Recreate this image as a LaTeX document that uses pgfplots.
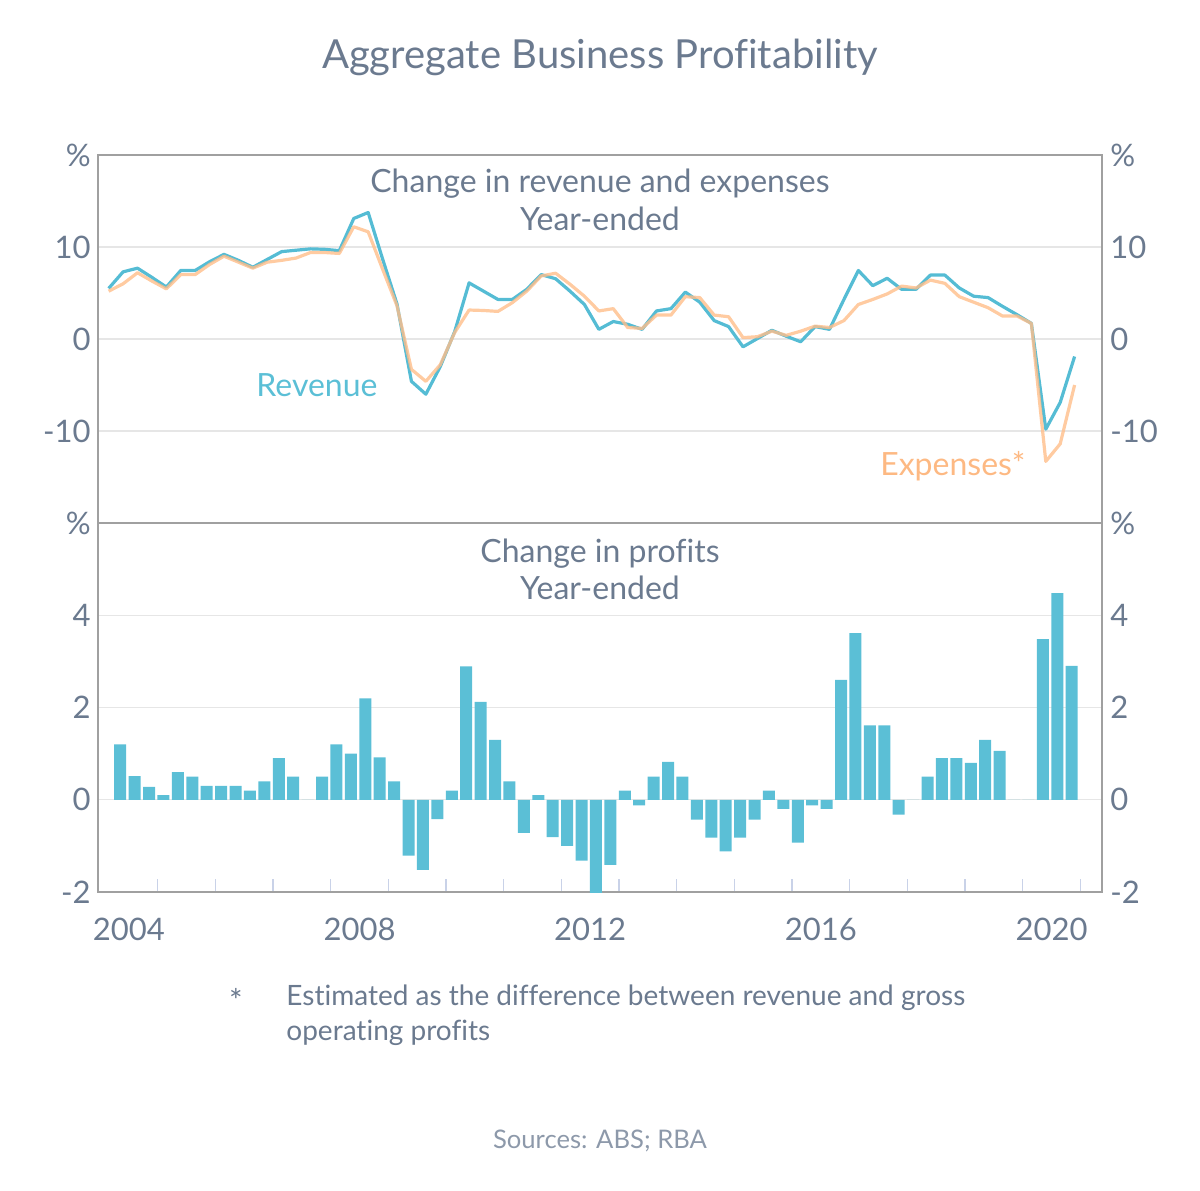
\documentclass[border=0pt]{standalone}
\usepackage{fontspec}
\setmainfont{Lato}[Ligatures=NoCommon]
\usepackage{pgfplots}
\pgfplotsset{compat=1.18}
\usepackage{pgfplotstable}

\definecolor{txt}{HTML}{6B7A8F}
\definecolor{srcgray}{HTML}{8D99AA}
\definecolor{axisgray}{HTML}{A0A0A0}
\definecolor{gridgray}{HTML}{E6E6E6}
\definecolor{tickcol}{HTML}{C9D2E8}
\definecolor{barcol}{HTML}{5BBFD6}
\definecolor{revcol}{HTML}{55BCD4}
\definecolor{expcol}{HTML}{FFBE8A}
\definecolor{exptxt}{HTML}{FDB983}

\pgfplotstableread{
x rev exp
2004.15 5.5 5.2
2004.40 7.3 6.0
2004.65 7.7 7.2
2004.90 6.7 6.3
2005.15 5.65 5.45
2005.40 7.45 7.0
2005.65 7.45 7.0
2005.90 8.4 8.1
2006.15 9.2 9.0
2006.40 8.55 8.35
2006.65 7.8 7.7
2006.90 8.65 8.35
2007.15 9.5 8.55
2007.40 9.65 8.8
2007.65 9.8 9.4
2007.90 9.75 9.4
2008.15 9.6 9.3
2008.40 13.1 12.2
2008.65 13.75 11.65
2008.90 8.7 7.6
2009.15 3.8 3.6
2009.40 -4.6 -3.3
2009.65 -6.0 -4.6
2009.90 -3.0 -2.8
2010.15 0.8 0.7
2010.40 6.1 3.15
2010.65 5.2 3.1
2010.90 4.3 3.0
2011.15 4.3 3.95
2011.40 5.4 5.2
2011.65 7.0 6.85
2011.90 6.55 7.15
2012.15 5.2 5.95
2012.40 3.75 4.65
2012.65 1.05 3.05
2012.90 1.9 3.3
2013.15 1.6 1.25
2013.40 1.05 1.15
2013.65 3.05 2.6
2013.90 3.3 2.6
2014.15 5.1 4.6
2014.40 4.0 4.5
2014.65 2.0 2.6
2014.90 1.35 2.42
2015.15 -0.85 0.15
2015.40 0.05 0.25
2015.65 0.95 0.85
2015.90 0.3 0.4
2016.15 -0.3 0.85
2016.40 1.35 1.4
2016.65 1.05 1.25
2016.90 4.3 2.0
2017.15 7.45 3.75
2017.40 5.8 4.3
2017.65 6.6 4.9
2017.90 5.4 5.75
2018.15 5.4 5.55
2018.40 6.95 6.4
2018.65 6.95 6.05
2018.90 5.55 4.6
2019.15 4.65 4.0
2019.40 4.5 3.4
2019.65 3.55 2.5
2019.90 2.65 2.5
2020.15 1.7 1.7
2020.40 -9.8 -13.3
2020.65 -6.9 -11.4
2020.90 -1.9 -5.0
}\lines

\pgfplotstableread{
x p
2004.35 1.2
2004.60 0.51
2004.85 0.28
2005.10 0.1
2005.35 0.6
2005.60 0.5
2005.85 0.3
2006.10 0.3
2006.35 0.3
2006.60 0.2
2006.85 0.4
2007.10 0.9
2007.35 0.5
2007.60 0
2007.85 0.5
2008.10 1.2
2008.35 1.0
2008.60 2.2
2008.85 0.92
2009.10 0.4
2009.35 -1.21
2009.60 -1.52
2009.85 -0.42
2010.10 0.2
2010.35 2.89
2010.60 2.12
2010.85 1.3
2011.10 0.4
2011.35 -0.72
2011.60 0.1
2011.85 -0.81
2012.10 -1.0
2012.35 -1.32
2012.60 -2.2
2012.85 -1.41
2013.10 0.2
2013.35 -0.12
2013.60 0.5
2013.85 0.82
2014.10 0.5
2014.35 -0.43
2014.60 -0.82
2014.85 -1.12
2015.10 -0.82
2015.35 -0.43
2015.60 0.2
2015.85 -0.2
2016.10 -0.93
2016.35 -0.12
2016.60 -0.2
2016.85 2.6
2017.10 3.61
2017.35 1.61
2017.60 1.61
2017.85 -0.32
2018.10 0
2018.35 0.5
2018.60 0.9
2018.85 0.9
2019.10 0.8
2019.35 1.3
2019.60 1.06
2019.85 0
2020.10 0
2020.35 3.48
2020.60 4.48
2020.85 2.9
}\profits

\pgfplotsset{
  common/.style={
    scale only axis, width=502pt,
    xmin=2003.965, xmax=2021.375,
    axis line style={draw=axisgray, line width=0.85pt},
    tick label style={font=\fontsize{15.5}{17}\selectfont, text=txt},
    major tick length=0pt,
    ytick style={draw=none},
    yticklabel style={inner xsep=0pt},
    grid style={gridgray, line width=0.7pt},
  },
  lefttop/.style={common, ymin=-20, ymax=20, height=184pt,
    ytick={-10,0,10}, yticklabels={-10,0,10},
    extra y ticks={20}, extra y tick labels={\%},
    extra y tick style={grid=none},
  },
  leftbot/.style={common, ymin=-2, ymax=6, height=184.5pt,
    ytick={0,2,4}, yticklabels={0,2,4},
    extra y ticks={-2,6}, extra y tick labels={-2,\%},
    extra y tick style={grid=none},
  },
}

\begin{document}
\begin{tikzpicture}
\path[use as bounding box] (0,0) rectangle (600pt,-595pt);

% ---------- top panel
\begin{axis}[lefttop, at={(49pt,-77.5pt)}, anchor=north west,
  ymajorgrids, xtick=\empty, yticklabel shift=3.5pt]
\addplot[revcol, line width=1.6pt, line join=round] table[x=x,y=rev]{\lines};
\addplot[expcol, opacity=0.8, line width=1.6pt, line join=round] table[x=x,y=exp]{\lines};
\end{axis}
\begin{axis}[lefttop, at={(49pt,-77.5pt)}, anchor=north west,
  hide x axis, axis line style={draw=none}, yticklabel pos=right, yticklabel shift=4pt]
\addplot[draw=none] coordinates {(2010,0)};
\end{axis}

% ---------- bottom panel
\begin{axis}[leftbot, at={(49pt,-261.5pt)}, anchor=north west,
  ymajorgrids, yticklabel shift=3.5pt,
  xtick={2004.5,2008.5,2012.5,2016.5,2020.5},
  xticklabels={2004,2008,2012,2016,2020},
  minor xtick={2005,2006,...,2021},
  minor tick length=6.5pt, tick align=inside, xtick pos=left,
  minor x tick style={draw=tickcol, line width=0.7pt},
  xticklabel style={anchor=north, inner ysep=0pt, yshift=-13pt}]
\addplot[ybar, bar width=6pt, bar shift=0pt, fill=barcol, draw=none] table[x=x,y=p]{\profits};
\end{axis}
\begin{axis}[leftbot, at={(49pt,-261.5pt)}, anchor=north west,
  hide x axis, axis line style={draw=none}, yticklabel pos=right, yticklabel shift=4pt]
\addplot[draw=none] coordinates {(2010,0)};
\end{axis}

% ---------- texts
\node[anchor=base, text=txt, font=\fontsize{20}{23}\selectfont] at (300pt,-34.15pt) {Aggregate Business Profitability};
\node[anchor=base, text=txt, font=\fontsize{16}{18}\selectfont] at (300pt,-96.25pt) {Change in revenue and expenses};
\node[anchor=base, text=txt, font=\fontsize{16}{18}\selectfont] at (300pt,-115pt) {Year-ended};
\node[anchor=base, text=txt, font=\fontsize{16}{18}\selectfont] at (300pt,-281pt) {Change in profits};
\node[anchor=base, text=txt, font=\fontsize{16}{18}\selectfont] at (300pt,-299.75pt) {Year-ended};
\node[anchor=base, text=barcol, font=\fontsize{16}{18}\selectfont] at (158.5pt,-198.3pt) {Revenue};
\node[anchor=base, text=exptxt, font=\fontsize{16}{18}\selectfont] at (476.4pt,-237.5pt) {Expenses*};
\node[anchor=base, text=txt, font=\fontsize{16}{16}\selectfont] at (118pt,-506pt) {*};
\node[anchor=base west, inner xsep=0pt, text=txt, font=\fontsize{14}{16}\selectfont] at (143pt,-502.5pt) {Estimated as the difference between revenue and gross};
\node[anchor=base west, inner xsep=0pt, text=txt, font=\fontsize{14}{16}\selectfont] at (143pt,-520pt) {operating profits};
\node[anchor=base, text=srcgray, font=\fontsize{12.8}{15}\selectfont] at (300pt,-574pt) {Sources: ABS; RBA};
\end{tikzpicture}
\end{document}
